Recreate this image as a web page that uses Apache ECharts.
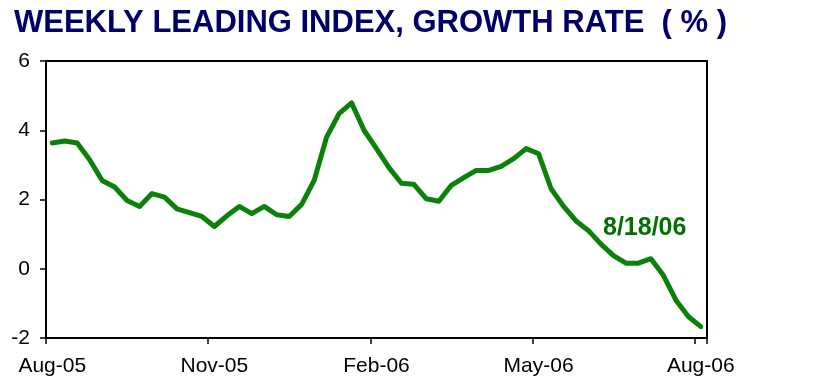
<!DOCTYPE html>
<html>
<head>
<meta charset="utf-8">
<script src="https://cdn.jsdelivr.net/npm/echarts@6/dist/echarts.min.js"></script>
<style>html,body{margin:0;padding:0;background:#fff}#c{width:823px;height:389px}</style>
</head>
<body>
<div id="c"></div>
<script>
// Weekly observations, 8/19/05 .. 8/18/06 (Fridays)
const weekDates = [
  '8/19/05','8/26/05','9/2/05','9/9/05','9/16/05','9/23/05','9/30/05','10/7/05','10/14/05','10/21/05','10/28/05','11/4/05','11/11/05',
  '11/18/05','11/25/05','12/2/05','12/9/05','12/16/05','12/23/05','12/30/05','1/6/06','1/13/06','1/20/06','1/27/06','2/3/06','2/10/06',
  '2/17/06','2/24/06','3/3/06','3/10/06','3/17/06','3/24/06','3/31/06','4/7/06','4/14/06','4/21/06','4/28/06','5/5/06','5/12/06',
  '5/19/06','5/26/06','6/2/06','6/9/06','6/16/06','6/23/06','6/30/06','7/7/06','7/14/06','7/21/06','7/28/06','8/4/06','8/11/06',
  '8/18/06'
];
const growthRate = [
  3.63, 3.69, 3.63, 3.15, 2.55, 2.36, 1.97, 1.80, 2.17, 2.07, 1.73, 1.62, 1.51,
  1.22, 1.53, 1.80, 1.59, 1.80, 1.56, 1.51, 1.86, 2.55, 3.80, 4.48, 4.79, 4.00,
  3.47, 2.92, 2.47, 2.44, 2.02, 1.95, 2.41, 2.63, 2.84, 2.84, 2.96, 3.18, 3.47,
  3.32, 2.31, 1.80, 1.38, 1.10, 0.71, 0.38, 0.16, 0.16, 0.29, -0.19, -0.90, -1.38,
  -1.67
];
const tickIndices = [0, 13, 26, 39, 52];
const tickLabels = ['Aug-05', 'Nov-05', 'Feb-06', 'May-06', 'Aug-06'];
const yTicks = [-2, 0, 2, 4, 6];
const titleText = 'WEEKLY LEADING INDEX, GROWTH RATE  ( % )';
const noteText = '8/18/06';

const chart = echarts.init(document.getElementById('c'), null, {renderer: 'canvas'});
const font = 'Arial, "Liberation Sans", sans-serif';
chart.setOption({
  animation: false,
  backgroundColor: '#ffffff',
  title: {
    text: titleText,
    left: 14, top: 8, padding: 0,
    textStyle: {fontFamily: font, fontWeight: 'bold', fontSize: 31, color: '#000066'}
  },
  grid: {left: 46, right: 116, top: 61, bottom: 51, show: true, borderColor: '#000', borderWidth: 2, backgroundColor: 'transparent'},
  xAxis: {
    type: 'category',
    data: weekDates,
    boundaryGap: true,
    axisLine: {show: true, onZero: false, lineStyle: {color: '#000', width: 2}},
    axisTick: {show: true, length: 6, lineStyle: {color: '#000', width: 1.5},
      interval: function (i) { return tickIndices.indexOf(i) >= 0; }},
    axisLabel: {
      interval: function (i) { return tickIndices.indexOf(i) >= 0; },
      formatter: function (v, i) { const k = tickIndices.indexOf(i); return k >= 0 ? tickLabels[k] : ''; },
      margin: 18, fontFamily: font, fontSize: 21, color: '#000'
    },
    splitLine: {show: false}
  },
  yAxis: {
    type: 'value',
    min: yTicks[0], max: yTicks[yTicks.length - 1], interval: 2,
    axisLine: {show: true, lineStyle: {color: '#000', width: 2}},
    axisTick: {show: true, length: 6, lineStyle: {color: '#000', width: 1.5}},
    axisLabel: {margin: 16, fontFamily: font, fontSize: 21, color: '#000'},
    splitLine: {show: false}
  },
  series: [{
    type: 'line',
    data: growthRate,
    symbol: 'none',
    lineStyle: {color: '#0a820a', width: 5, cap: 'round', join: 'round'},
    z: 3
  }],
  graphic: [{
    type: 'text', left: 603, top: 216,
    style: {text: noteText, font: 'bold 25px Arial, "Liberation Sans", sans-serif', fill: '#007000'}
  }]
});
</script>
</body>
</html>
